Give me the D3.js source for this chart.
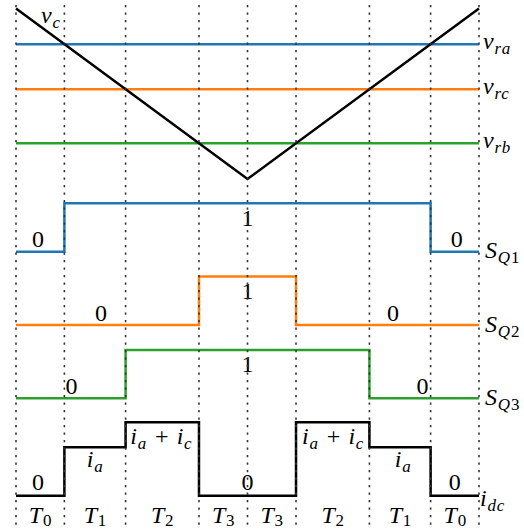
<!DOCTYPE html>
<html>
<head>
<meta charset="utf-8">
<script src="https://cdn.jsdelivr.net/npm/d3@7"></script>
<style>
  html, body { margin: 0; padding: 0; background: #fff; }
  svg { display: block; }
  text { font-family: "Liberation Serif", "DejaVu Serif", serif; fill: #000; }
</style>
</head>
<body>
<div id="chart"></div>
<script>
// ---------------- data ----------------
// segment boundaries (normalised switching period, symmetric)
const boundaries = [0, 0.1045, 0.2367, 0.3952, 0.5, 0.6048, 0.7633, 0.8955, 1];
const segmentNames = ["0", "1", "2", "3", "3", "2", "1", "0"];   // T subscripts
// triangular carrier v_c (time, value)
const carrierT = [0, 0.5, 1];
const carrierV = [1, 0, 1];
// reference levels
const refNames = ["ra", "rc", "rb"];
const refValues = [0.791, 0.527, 0.210];
const refColors = ["#1f77b4", "#ff7f0e", "#2ca02c"];
// switching states per segment
const sq1 = [0, 1, 1, 1, 1, 1, 1, 0];
const sq2 = [0, 0, 0, 1, 1, 0, 0, 0];
const sq3 = [0, 0, 1, 1, 1, 1, 0, 0];
const rowNames = ["1", "2", "3"];
// dc-link current per segment (units of i_a)
const idc = [0, 1, 1.52, 0, 0, 1.52, 1, 0];
// annotation labels: [time, text, above(true)/below(false)]
const sq1Labels = [[0.0475, "0", true], [0.5, "1", false], [0.952, "0", true]];
const sq2Labels = [[0.1836, "0", true], [0.5, "1", false], [0.814, "0", true]];
const sq3Labels = [[0.12, "0", true], [0.5, "1", false], [0.878, "0", true]];
const idcLabels = [[0.0475, "0", "0"], [0.171, "ia", "1"], [0.314, "iaic", "1.52"],
                   [0.5, "0", "0"], [0.685, "iaic", "1.52"], [0.836, "ia", "1"], [0.9475, "0", "0"]];

// ---------------- layout ----------------
const W = 524, H = 530;
const svg = d3.select("#chart").append("svg").attr("width", W).attr("height", H);
svg.append("rect").attr("width", W).attr("height", H).attr("fill", "#fff");

const x = d3.scaleLinear().domain([0, 1]).range([16, 479]);
const yTop = d3.scaleLinear().domain([0, 1]).range([179, 8.5]);
const rowScale = base => d3.scaleLinear().domain([0, 1]).range([base, base - 48.4]);
const ySQ1 = rowScale(251.7), ySQ2 = rowScale(325), ySQ3 = rowScale(398.3), yIdc = rowScale(495.7);

const FS = 24, SFS = 17;

function mathLabel(sel, parts, subShift) {
  // parts: [text, italic, sub]
  const shift = subShift === undefined ? 5 : subShift;
  let cur = 0;
  parts.forEach(([t, it, sub]) => {
    const target = sub ? shift : 0;
    sel.append("tspan")
      .attr("font-style", it ? "italic" : "normal")
      .attr("font-size", sub ? SFS : FS)
      .attr("letter-spacing", it ? 0.8 : 0)
      .attr("dy", target - cur)
      .text(t);
    cur = target;
  });
  return sel;
}

// ---------------- top panel ----------------
refValues.forEach((v, i) => {
  svg.append("line")
    .attr("x1", x(0)).attr("x2", x(1))
    .attr("y1", yTop(v)).attr("y2", yTop(v))
    .attr("stroke", refColors[i]).attr("stroke-width", 2.5);
  mathLabel(svg.append("text").attr("x", 483).attr("y", yTop(v) + 5),
    [["v", true, false], [refNames[i], true, true]]);
});
svg.append("path")
  .attr("d", d3.line().x((d, i) => x(carrierT[i])).y(d => yTop(d))(carrierV))
  .attr("fill", "none").attr("stroke", "#000").attr("stroke-width", 2.5);
mathLabel(svg.append("text").attr("x", 41).attr("y", 23), [["v", true, false], ["c", true, true]]);

// ---------------- switching rows ----------------
function stepPath(vals, y, color) {
  const pts = vals.map((v, i) => [boundaries[i], v]).concat([[1, vals[vals.length - 1]]]);
  svg.append("path")
    .attr("d", d3.line().curve(d3.curveStepAfter).x(d => x(d[0])).y(d => y(d[1]))(pts))
    .attr("fill", "none").attr("stroke", color).attr("stroke-width", 2.5);
}
stepPath(sq1, ySQ1, refColors[0]);
stepPath(sq2, ySQ2, refColors[1]);
stepPath(sq3, ySQ3, refColors[2]);
stepPath(idc, yIdc, "#000");

function stateLabels(labels, y) {
  labels.forEach(([t, txt, above]) => {
    svg.append("text")
      .attr("x", x(t)).attr("y", above ? y(0) - 4.5 : y(1) + 22.5)
      .attr("text-anchor", "middle").attr("font-size", FS).text(txt);
  });
}
stateLabels(sq1Labels, ySQ1);
stateLabels(sq2Labels, ySQ2);
stateLabels(sq3Labels, ySQ3);

idcLabels.forEach(([t, kind, lvl]) => {
  const level = +lvl;
  const txt = svg.append("text").attr("x", x(t)).attr("text-anchor", "middle");
  if (kind === "0") {
    txt.attr("y", yIdc(level) - 6).attr("font-size", FS).text("0");
  } else if (kind === "ia") {
    txt.attr("y", yIdc(level) + 19.5);
    mathLabel(txt, [["i", true, false], ["a", true, true]]);
  } else {
    txt.attr("y", yIdc(level) + 21.5);
    mathLabel(txt, [["i", true, false], ["a", true, true], ["\u2004+\u2004", false, false], ["i", true, false], ["c", true, true]]);
  }
});

// right-hand row labels
[ySQ1, ySQ2, ySQ3].forEach((y, i) => {
  mathLabel(svg.append("text").attr("x", 485).attr("y", y(0) + 6.5),
    [["S", true, false], ["Q", true, true], [rowNames[i], false, true]]);
});
mathLabel(svg.append("text").attr("x", 480).attr("y", yIdc(0) + 10),
  [["i", true, false], ["dc", true, true]]);

// T labels
segmentNames.forEach((n, i) => {
  const txt = svg.append("text")
    .attr("x", x((boundaries[i] + boundaries[i + 1]) / 2))
    .attr("y", 522.5).attr("text-anchor", "middle");
  mathLabel(txt, [["T", true, false], [n, false, true]], 3.5);
});

// dotted guides on top
boundaries.forEach(b => {
  svg.append("line")
    .attr("x1", x(b)).attr("x2", x(b))
    .attr("y1", 5).attr("y2", H)
    .attr("stroke", "#333").attr("stroke-width", 1.6)
    .attr("stroke-dasharray", "2.2,5.3");
});
</script>
</body>
</html>
